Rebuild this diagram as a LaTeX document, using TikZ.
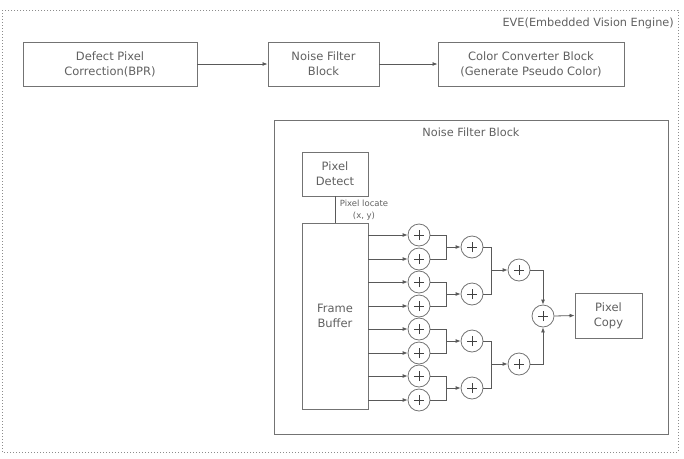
\documentclass[tikz,border=0pt]{standalone}
\usepackage{fontspec}
\setmainfont{DejaVu Sans}
\usetikzlibrary{arrows.meta,calc}
\definecolor{linec}{gray}{0.45}
\definecolor{textc}{gray}{0.38}
\tikzset{
  blk/.style={draw=linec, line width=0.9pt, fill=white, align=center, inner sep=0pt,
    font=\fontsize{11.5}{15}\selectfont, text=textc},
  adder/.style={circle, draw=linec, line width=0.8pt, minimum size=22pt, inner sep=0pt,
    path picture={
      \draw[line width=1pt, black!75] ([xshift=-5pt]path picture bounding box.center) -- ([xshift=5pt]path picture bounding box.center);
      \draw[line width=1pt, black!75] ([yshift=-5pt]path picture bounding box.center) -- ([yshift=5pt]path picture bounding box.center);
    }},
  arr/.style={draw=black!65, line width=0.8pt, -{Latex[length=5pt,width=4pt]}},
  ln/.style={draw=black!65, line width=0.8pt},
  lbl/.style={font=\fontsize{11.3}{15}\selectfont, text=textc, inner sep=0pt}
}
\begin{document}
\begin{tikzpicture}[x=1pt,y=-1pt]
\useasboundingbox (0,0) rectangle (684,458);
% outer dotted frame
\draw[draw=black!45, line width=1pt, dotted] (2,10) rectangle (678,452);
\node[lbl, anchor=east] (eve) at (674,23) {EVE(Embedded Vision Engine)};

% top row
\node[blk, minimum width=174pt, minimum height=44pt] (dpc) at (110,64) {Defect Pixel\\Correction(BPR)};
\node[blk, minimum width=111pt, minimum height=44pt] (nfb) at (323.5,64) {Noise Filter\\Block};
\node[blk, minimum width=186pt, minimum height=44pt] (ccb) at (531,64) {Color Converter Block\\(Generate Pseudo Color)};
\draw[arr] (dpc) -- (nfb);
\draw[arr] (nfb) -- (ccb);

% inner block
\draw[draw=linec, line width=1pt] (274,120) rectangle (668,434);
\node[lbl] (nftitle) at (471,132) {Noise Filter Block};

\node[blk, minimum width=66pt, minimum height=44pt] (pd) at (335,174) {Pixel\\Detect};
\node[blk, minimum width=66pt, minimum height=186pt] (fb) at (335,316) {Frame\\Buffer};
\draw[ln] (pd.south) -- (fb.north);
\node[font=\fontsize{8.5}{12}\selectfont, text=textc, align=center, inner sep=0pt] (loc) at (364,210) {Pixel locate\\(x, y)};

% adders column 1
\foreach \i/\yy in {1/235,2/259,3/282,4/306,5/329,6/353,7/376,8/400} {
  \node[adder] (a\i) at (419,\yy) {};
  \draw[arr] (fb.east |- a\i) -- (a\i.west);
}
% column 2
\foreach \i/\yy in {1/247,2/294,3/341,4/388} {
  \node[adder] (b\i) at (472,\yy) {};
}
% column 3
\node[adder] (c1) at (519,270) {};
\node[adder] (c2) at (519,364) {};
% final
\node[adder] (f) at (543,316) {};
\node[blk, minimum width=67pt, minimum height=45pt] (pc) at (608.5,315.5) {Pixel\\Copy};

% brackets col1 -> col2
\coordinate (x1) at (446,0);
\foreach \j/\p/\q in {1/1/2,2/3/4,3/5/6,4/7/8} {
  \draw[ln] (a\p.east) -- (x1 |- a\p) -- (x1 |- a\q) -- (a\q.east);
  \draw[arr] (x1 |- b\j) -- (b\j.west);
}
% col2 -> col3
\coordinate (x2) at (491,0);
\draw[ln] (b1.east) -- (x2 |- b1) -- (x2 |- b2) -- (b2.east);
\draw[arr] (x2 |- c1) -- (c1.west);
\draw[ln] (b3.east) -- (x2 |- b3) -- (x2 |- b4) -- (b4.east);
\draw[arr] (x2 |- c2) -- (c2.west);
% col3 -> final
\draw[arr] (c1.east) -| (f.north);
\draw[arr] (c2.east) -| (f.south);
\draw[arr] (f.east) -- (pc.west);
\end{tikzpicture}
\end{document}
